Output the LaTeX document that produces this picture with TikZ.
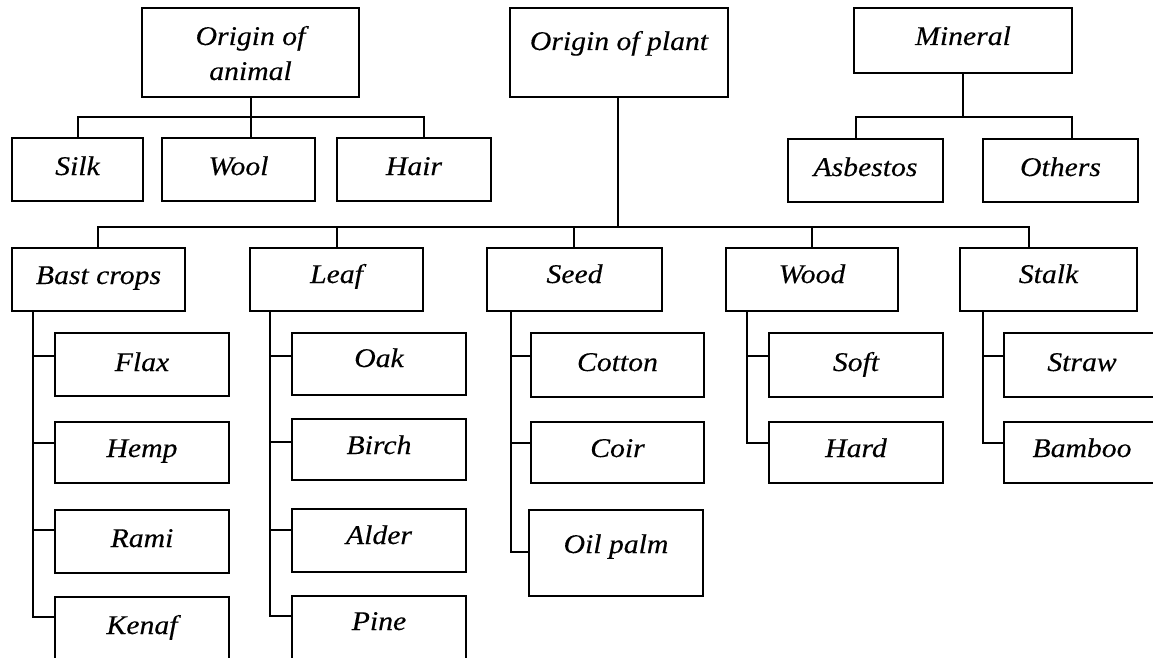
\documentclass[tikz,border=0pt]{standalone}
\usepackage{fontspec}
\setmainfont{Liberation Serif}[FakeStretch=1.1,FakeBold=0.3]
\begin{document}
\begin{tikzpicture}[x=1pt,y=-1pt,
  box/.style={draw=black, line width=2.3pt, rectangle, inner sep=0pt, outer sep=0pt},
  lbl/.style={anchor=base, inner sep=0pt, font=\fontsize{27}{35}\selectfont\itshape},
  conn/.style={draw=black, line width=2.3pt, line cap=rect}]
\useasboundingbox (0,0) rectangle (1153,658);
\begin{scope}
\clip (0,0) rectangle (1153,658);
\newcommand\bx[5]{\node[box, minimum width={(#4)-(#2)}, minimum height={(#5)-(#3)}] (#1) at ({((#2)+(#4))/2},{((#3)+(#5))/2}) {};}
% top level
\bx{oa}{142}{8}{359}{97}
\bx{op}{510}{8}{728}{97}
\bx{mi}{854}{8}{1072}{73}
\node[lbl] (toa1) at (250.5,45) {Origin of};
\node[lbl] (toa2) at (250.5,80) {animal};
\node[lbl] (top) at (619,50) {Origin of plant};
\node[lbl] (tmi) at (963,45) {Mineral};
% animal children
\bx{silk}{12}{138}{143}{201}
\bx{wool}{162}{138}{315}{201}
\bx{hair}{337}{138}{491}{201}
\node[lbl] (tsilk) at (77.5,175) {Silk};
\node[lbl] (twool) at (238.5,175) {Wool};
\node[lbl] (thair) at (414,175) {Hair};
% mineral children
\bx{asb}{788}{139}{943}{202}
\bx{oth}{983}{139}{1138}{202}
\node[lbl] (tasb) at (865.5,176) {Asbestos};
\node[lbl] (toth) at (1060.5,176) {Others};
% plant categories
\bx{bast}{12}{248}{185}{311}
\bx{leaf}{250}{248}{423}{311}
\bx{seed}{487}{248}{662}{311}
\bx{wood}{726}{248}{898}{311}
\bx{stalk}{960}{248}{1137}{311}
\node[lbl] (tbast) at (98.5,284) {Bast crops};
\node[lbl] (tleaf) at (336.5,283) {Leaf};
\node[lbl] (tseed) at (574.5,283) {Seed};
\node[lbl] (twood) at (812,283) {Wood};
\node[lbl] (tstalk) at (1048.5,283) {Stalk};
% bast children
\bx{flax}{55}{333}{229}{396}
\bx{hemp}{55}{422}{229}{483}
\bx{rami}{55}{510}{229}{573}
\bx{kenaf}{55}{597}{229}{690}
\node[lbl] (tflax) at (142,371) {Flax};
\node[lbl] (themp) at (142,457) {Hemp};
\node[lbl] (trami) at (142,547) {Rami};
\node[lbl] (tkenaf) at (142,634) {Kenaf};
% leaf children
\bx{oak}{292}{333}{466}{395}
\bx{birch}{292}{419}{466}{480}
\bx{alder}{292}{509}{466}{572}
\bx{pine}{292}{596}{466}{690}
\node[lbl] (toak) at (379,367) {Oak};
\node[lbl] (tbirch) at (379,454) {Birch};
\node[lbl] (talder) at (379,544) {Alder};
\node[lbl] (tpine) at (379,630) {Pine};
% seed children
\bx{cotton}{531}{333}{704}{397}
\bx{coir}{531}{422}{704}{483}
\bx{oilp}{529}{510}{703}{596}
\node[lbl] (tcotton) at (617.5,371) {Cotton};
\node[lbl] (tcoir) at (617.5,457) {Coir};
\node[lbl] (toilp) at (616,553) {Oil palm};
% wood children
\bx{soft}{769}{333}{943}{397}
\bx{hard}{769}{422}{943}{483}
\node[lbl] (tsoft) at (856,371) {Soft};
\node[lbl] (thard) at (856,457) {Hard};
% stalk children
\bx{straw}{1004}{333}{1170}{397}
\bx{bamboo}{1004}{422}{1170}{483}
\node[lbl] (tstraw) at (1082,371) {Straw};
\node[lbl] (tbamboo) at (1082,457) {Bamboo};
% connectors: animal
\draw[conn] (oa.south -| 251,0) -- (251,117);
\draw[conn] (silk.north -| 78,0) |- (424,117) -- (hair.north -| 424,0);
\draw[conn] (wool.north -| 251,0) -- (251,117);
% mineral
\draw[conn] (mi.south -| 963,0) -- (963,117);
\draw[conn] (asb.north -| 856,0) |- (1072,117) -- (oth.north -| 1072,0);
% plant
\draw[conn] (op.south -| 618,0) -- (618,227);
\draw[conn] (bast.north -| 98,0) |- (1029,227) -- (stalk.north -| 1029,0);
\draw[conn] (leaf.north -| 337,0) -- (337,227);
\draw[conn] (seed.north -| 574,0) -- (574,227);
\draw[conn] (wood.north -| 812,0) -- (812,227);
% bast branch
\draw[conn] (bast.south -| 33,0) |- (kenaf.west |- 0,617);
\draw[conn] (33,356) -- (flax.west |- 0,356);
\draw[conn] (33,443) -- (hemp.west |- 0,443);
\draw[conn] (33,530) -- (rami.west |- 0,530);
% leaf branch
\draw[conn] (leaf.south -| 270,0) |- (pine.west |- 0,616);
\draw[conn] (270,356) -- (oak.west |- 0,356);
\draw[conn] (270,442) -- (birch.west |- 0,442);
\draw[conn] (270,530) -- (alder.west |- 0,530);
% seed branch
\draw[conn] (seed.south -| 511,0) |- (oilp.west |- 0,552);
\draw[conn] (511,356) -- (cotton.west |- 0,356);
\draw[conn] (511,443) -- (coir.west |- 0,443);
% wood branch
\draw[conn] (wood.south -| 747,0) |- (hard.west |- 0,443);
\draw[conn] (747,356) -- (soft.west |- 0,356);
% stalk branch
\draw[conn] (stalk.south -| 983,0) |- (bamboo.west |- 0,443);
\draw[conn] (983,356) -- (straw.west |- 0,356);
\end{scope}
\end{tikzpicture}
\end{document}
